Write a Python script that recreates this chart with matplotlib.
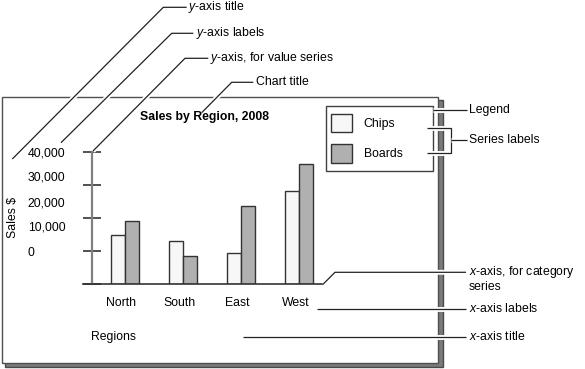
import matplotlib
matplotlib.use('Agg')
import matplotlib.pyplot as plt
from matplotlib.patches import Rectangle
import matplotlib.patheffects as pe
import matplotlib.transforms as mtrans
import numpy as np

# ---------------- data ----------------
regions = ['North', 'South', 'East', 'West']
chips = [14800, 13000, 9500, 28100]
boards = [19200, 8500, 23600, 36400]
series_names = ['Chips', 'Boards']
y_ticks = [0, 10000, 20000, 30000, 40000]
y_tick_labels = ['40,000', '30,000', '20,000', '10,000', '0']
chart_title = 'Sales by Region, 2008'
y_title = 'Sales $'
x_title = 'Regions'

plt.rcParams['font.family'] = ['Liberation Sans', 'DejaVu Sans']
plt.rcParams['mathtext.fontset'] = 'custom'
plt.rcParams['mathtext.rm'] = 'Liberation Sans'
plt.rcParams['mathtext.it'] = 'Liberation Sans:italic'

FS = 8.8
W, H = 585, 369
fig = plt.figure(figsize=(W / 100, H / 100), dpi=100)

# overlay axes in pixel coordinates (frame, shadow, labels)
ov = fig.add_axes([0, 0, 1, 1], zorder=0)
ov.set_xlim(0, W); ov.set_ylim(H, 0); ov.axis('off')
ov.add_patch(Rectangle((5, 100), 438, 266.5, fc='#7a7a7a', ec='#4a4a4a', lw=1))
ov.add_patch(Rectangle((2, 97), 436, 266, fc='white', ec='#505050', lw=1))
ov.add_patch(Rectangle((325.7, 106), 107, 65, fc='white', ec='#404040', lw=1))

# y tick labels (offset from the ticks as in the reference)
for k, lab in enumerate(y_tick_labels):
    if lab == '0':
        ov.text(27, 153 + 25 * k, lab, fontsize=FS, ha='left', va='center')
    else:
        ov.text(65.5, 153 + 25 * k, lab, fontsize=FS, ha='right', va='center')
ov.text(13, 217, y_title, fontsize=FS, rotation=90, ha='center', va='center')
ov.text(91, 336.7, x_title, fontsize=FS, ha='left', va='center')

# ---------------- bar chart axes ----------------
ax = fig.add_axes([83 / W, (H - 284) / H, 240 / W, 132 / H], zorder=2)
ax.patch.set_alpha(0)
x = np.arange(len(regions))
w = 0.233
ax.bar(x - w / 2, chips, w, color='#f7f7f7', edgecolor='#333333', lw=1,
       label=series_names[0])
ax.bar(x + w / 2, boards, w, color='#b0b0b0', edgecolor='#333333', lw=1,
       label=series_names[1])
ax.set_xlim(-0.724, 3.414)
ax.set_ylim(0, 40000)
for s in ['top', 'right']:
    ax.spines[s].set_visible(False)
ax.spines['left'].set_position(('data', -0.569))
ax.spines['left'].set_color('#808080')
ax.spines['left'].set_linewidth(1.6)
ax.spines['bottom'].set_color('#333333')
ax.spines['bottom'].set_linewidth(1.2)
ax.set_yticks(y_ticks)
ax.set_yticklabels([])
ax.tick_params(axis='y', direction='inout', length=13, width=1.2, color='#333333')
ax.set_xticks(x)
ax.set_xticklabels(regions, fontsize=FS)
ax.tick_params(axis='x', length=0, pad=9)
off = mtrans.ScaledTranslation(-3.5 / 100, 0, fig.dpi_scale_trans)
for t in ax.get_xticklabels():
    t.set_transform(t.get_transform() + off)

ax.legend(loc='upper left', bbox_to_anchor=(325.7 / W, 1 - 108 / H),
          bbox_transform=fig.transFigure, frameon=False, fontsize=FS,
          handlelength=1.7, handleheight=2.0, labelspacing=0.95,
          borderpad=0.45, handletextpad=0.95, borderaxespad=0)

# ---------------- callouts ----------------
top = fig.add_axes([0, 0, 1, 1], zorder=3)
top.set_xlim(0, W); top.set_ylim(H, 0); top.axis('off')
halo = [pe.Stroke(linewidth=3.5, foreground='white'), pe.Normal()]


def leader(xs, ys):
    top.plot(xs, ys, color='#222222', lw=0.9, solid_capstyle='butt',
             solid_joinstyle='miter', path_effects=halo)


def label(xp, yp, s):
    top.text(xp, yp, s, fontsize=FS, ha='left', va='center')


leader([12.3, 163.3, 186.7], [159, 7.3, 7.3]);       label(188.5, 7.3, '$\\mathit{y}$-axis title')
leader([61, 171.7, 193.3], [142.7, 33.3, 33.3]);     label(195.5, 33.3, '$\\mathit{y}$-axis labels')
leader([93, 185, 208.3], [151, 58.3, 58.3]);         label(210.5, 58.3, '$\\mathit{y}$-axis, for value series')
leader([201.7, 231.7, 253.3], [112.7, 82.3, 82.3]);  label(255.5, 82.3, 'Chart title')
leader([433, 466.7], [110, 110]);                    label(469, 110, 'Legend')
leader([426.7, 450.7, 450.7, 426.7], [127.7, 127.7, 153.3, 153.3])
leader([450.7, 466.7], [140, 140]);                  label(469, 140, 'Series labels')
leader([323.3, 335, 466], [284, 272.3, 272.3]);      label(469, 271.8, '$\\mathit{x}$-axis, for category')
top.text(469, 280.5, 'series', fontsize=FS, ha='left', va='top')
leader([316.7, 466], [309, 309]);                    label(469, 309, '$\\mathit{x}$-axis labels')
leader([243.3, 466], [336.7, 336.7]);                label(469, 336.7, '$\\mathit{x}$-axis title')

top.text(204, 117, chart_title, fontsize=FS, fontweight='bold', ha='center',
         va='center', zorder=5)

fig.savefig('out.png', dpi=100)
